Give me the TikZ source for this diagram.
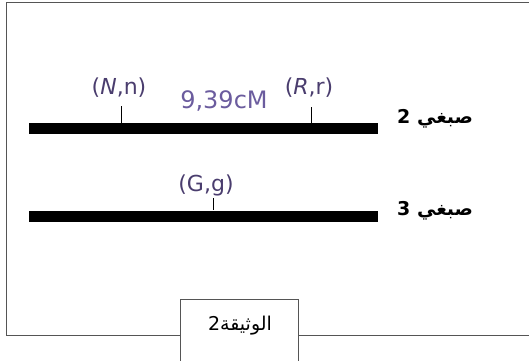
\documentclass[tikz,border=0pt]{standalone}
\usepackage{fontspec}
\setmainfont{DejaVu Sans}
\newfontfamily\arabicfont[Script=Arabic]{DejaVu Sans}
\newfontfamily\handfont{DejaVu Sans}
\TeXXeTstate=1
\definecolor{hand}{HTML}{4A3D6E}
\definecolor{handlight}{HTML}{6B5C9E}
\definecolor{frame}{HTML}{555555}
\begin{document}
\begin{tikzpicture}[x=1pt,y=-1pt,
  chrom/.style={line width=11pt},
  tick/.style={line width=0.8pt},
  allele/.style={font=\handfont\fontsize{22}{22}\selectfont, text=hand, inner sep=0pt},
  chlabel/.style={font=\arabicfont\bfseries\fontsize{19}{19}\selectfont, anchor=west, inner sep=0pt},
  framebox/.style={draw=frame, line width=0.9pt}]
\useasboundingbox (0,0) rectangle (529,360);
% outer frame
\draw[framebox] (180,335) -- (6,335) -- (6,2) -- (535,2) -- (535,335) -- (298,335);
% caption box
\node[framebox, fill=white, minimum width=118pt, minimum height=66pt, anchor=north west, inner sep=0pt] (cap) at (180,299) {};
\node[font=\arabicfont\fontsize{19}{19}\selectfont, inner sep=0pt] (captext) at (240,326) {\beginR الوثيقة2\endR};
% chromosomes
\coordinate (c2a) at (29,128.5);
\coordinate (c2b) at (378,128.5);
\coordinate (c3a) at (29,216);
\coordinate (c3b) at (378,216);
\draw[chrom] (c2a) -- (c2b);
\draw[chrom] (c3a) -- (c3b);
% ticks
\coordinate (tN1) at (121,106); \coordinate (tN2) at (121,123);
\coordinate (tR1) at (311,107); \coordinate (tR2) at (311,123);
\coordinate (tG1) at (213,198); \coordinate (tG2) at (213,210);
\draw[tick] (tN1) -- (tN2);
\draw[tick] (tR1) -- (tR2);
\draw[tick] (tG1) -- (tG2);
% allele labels
\node[allele] (Nn) at (119,88) {(\textit{N},n)};
\node[allele] (Rr) at (309,88) {(\textit{R},r)};
\node[allele] (Gg) at (206,185) {(G,g)};
\node[allele, text=handlight, font=\handfont\fontsize{24}{24}\selectfont] (dist) at (224,101) {9,39cM};
% chromosome names
\node[chlabel] (n2) at (397,119) {\beginR صبغي 2\endR};
\node[chlabel] (n3) at (397,211) {\beginR صبغي 3\endR};
\end{tikzpicture}
\end{document}
